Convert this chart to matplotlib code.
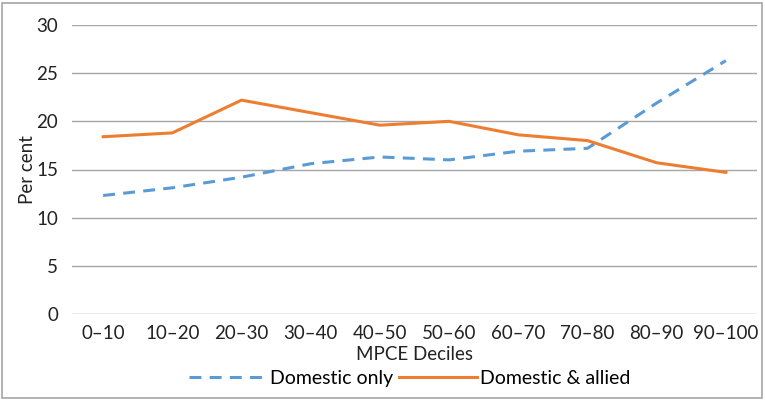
import numpy as np
import matplotlib.pyplot as plt
from matplotlib.patches import Rectangle

plt.rcParams['font.family'] = ['Lato', 'DejaVu Sans']

# данные
deciles = ['0–10', '10–20', '20–30', '30–40', '40–50', '50–60',
           '60–70', '70–80', '80–90', '90–100']
domestic_only = [12.3, 13.1, 14.2, 15.6, 16.3, 16.0, 16.9, 17.2, 21.9, 26.3]
domestic_allied = [18.4, 18.8, 22.2, 20.9, 19.6, 20.0, 18.6, 18.0, 15.7, 14.7]

fig = plt.figure(figsize=(7.65, 4.0), dpi=100)
ax = fig.add_axes([72 / 765, 1 - 314 / 400, (757 - 72) / 765, 289 / 400])

x = np.arange(len(deciles))
ax.plot(x, domestic_only, color='#5B9BD5', lw=2.2, linestyle=(0, (3.9, 2.7)),
        label='Domestic only')
ax.plot(x, domestic_allied, color='#ED7D31', lw=2.2,
        label='Domestic & allied')

ax.set_ylim(0, 30)
ax.set_yticks(range(0, 31, 5))
ax.set_xlim(-0.45, len(deciles) - 0.55)
ax.set_xticks(x)
ax.set_xticklabels(deciles)
ax.grid(axis='y', color='#a6a6a6', lw=1)
ax.set_axisbelow(True)
for s in ['top', 'right', 'left', 'bottom']:
    ax.spines[s].set_visible(False)
ax.tick_params(axis='both', length=0, labelsize=13.5, colors='#222222')
ax.tick_params(axis='y', pad=10)
ax.tick_params(axis='x', pad=8)

ax.set_xlabel('MPCE Deciles', fontsize=13.5, color='#222222', labelpad=3)
ax.set_ylabel('Per cent', fontsize=13.5, color='#222222', labelpad=0)

ax.legend(loc='center', bbox_to_anchor=(0.493, -0.222), ncol=2,
          frameon=False, fontsize=14, handlelength=4.0, columnspacing=0.3,
          handletextpad=0.15)

# рамка вокруг всей картинки
fig.patches.append(Rectangle((2 / 765, 2 / 400), 760 / 765, 395 / 400,
                             transform=fig.transFigure, fill=False,
                             edgecolor='#a6a6a6', lw=1.2))

fig.savefig('out.png', dpi=100)
